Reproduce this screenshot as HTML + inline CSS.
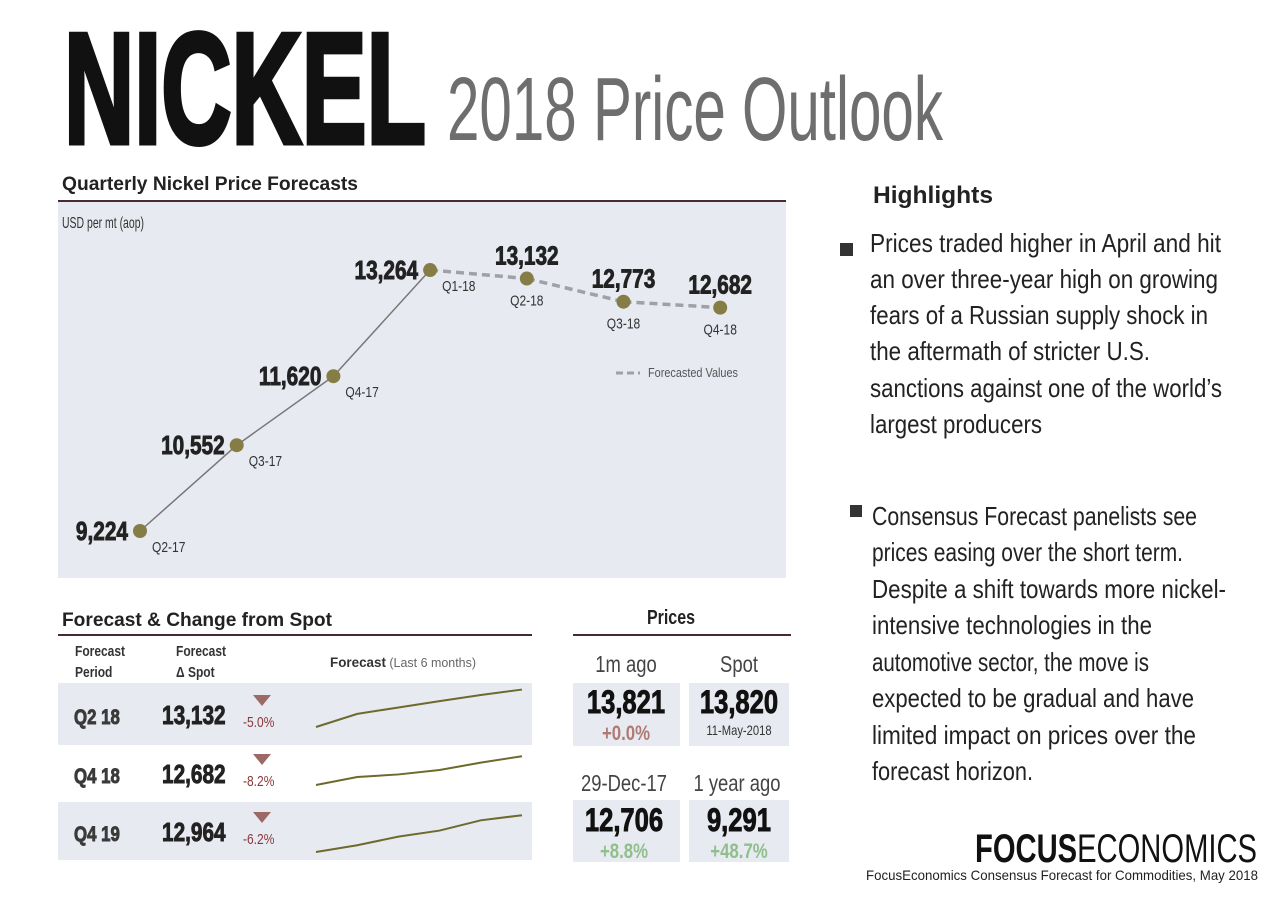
<!DOCTYPE html>
<html><head><meta charset="utf-8"><title>Nickel 2018 Price Outlook</title>
<style>
html,body{margin:0;padding:0;background:#fff;}
svg{display:block;font-family:"Liberation Sans Narrow","Liberation Sans",sans-serif;}
</style></head>
<body>
<svg id="page" width="1280" height="903" viewBox="0 0 1280 903" xmlns="http://www.w3.org/2000/svg">
<rect width="1280" height="903" fill="#fff"/>
<text x="64" y="143" font-size="158" font-weight="bold" fill="#111" stroke="#111" stroke-width="5" textLength="362" lengthAdjust="spacingAndGlyphs">NICKEL</text>
<text x="447" y="140" font-size="90" fill="#6e6e6e" textLength="496" lengthAdjust="spacingAndGlyphs">2018 Price Outlook</text>

<!-- Main chart -->
<text x="62" y="190" font-size="19" font-weight="bold" fill="#222" textLength="296" lengthAdjust="spacingAndGlyphs">Quarterly Nickel Price Forecasts</text>
<rect x="58" y="202" width="728" height="376" fill="#e8eaf1"/>
<line x1="58" y1="201" x2="786" y2="201" stroke="#4a2a32" stroke-width="2"/>
<text x="62" y="228" font-size="16" fill="#333" textLength="82" lengthAdjust="spacingAndGlyphs">USD per mt (aop)</text>
<g id="chart"></g>
<line x1="616" y1="373" x2="640" y2="373" stroke="#a0a0a8" stroke-width="3" stroke-dasharray="7,4"/>
<text x="648" y="377" font-size="13" fill="#555" textLength="90" lengthAdjust="spacingAndGlyphs">Forecasted Values</text>

<!-- Forecast table -->
<text x="62" y="626" font-size="19" font-weight="bold" fill="#222" textLength="270" lengthAdjust="spacingAndGlyphs">Forecast &amp; Change from Spot</text>
<line x1="58" y1="635" x2="532" y2="635" stroke="#4a2a32" stroke-width="2"/>
<text x="75" y="656" font-size="15" font-weight="bold" fill="#333">Forecast</text>
<text x="75" y="677" font-size="15" font-weight="bold" fill="#333">Period</text>
<text x="176" y="656" font-size="15" font-weight="bold" fill="#333">Forecast</text>
<text x="176" y="677" font-size="15" font-weight="bold" fill="#333">Δ  Spot</text>
<text x="330" y="667" font-size="14" fill="#333" textLength="146" lengthAdjust="spacingAndGlyphs"><tspan font-weight="bold">Forecast</tspan><tspan font-size="13" fill="#666"> (Last 6 months)</tspan></text>
<rect x="58" y="683" width="474" height="62" fill="#e8eaf1"/>
<rect x="58" y="802" width="474" height="58" fill="#e8eaf1"/>
<g id="table"></g>

<!-- Prices -->
<text x="671" y="624" font-size="20" font-weight="bold" fill="#222" text-anchor="middle">Prices</text>
<line x1="573" y1="635" x2="791" y2="635" stroke="#4a2a32" stroke-width="2"/>
<text x="626" y="672" font-size="23" fill="#444" text-anchor="middle">1m ago</text>
<text x="739" y="672" font-size="23" fill="#444" text-anchor="middle">Spot</text>
<rect x="573" y="683" width="107" height="63" fill="#e8eaf1"/>
<rect x="689" y="683" width="100" height="63" fill="#e8eaf1"/>
<text class="heavy" x="626" y="713" font-size="32" font-weight="bold" fill="#111" text-anchor="middle">13,821</text>
<text x="626" y="740" font-size="21" font-weight="bold" fill="#b07a74" text-anchor="middle">+0.0%</text>
<text class="heavy" x="739" y="713" font-size="32" font-weight="bold" fill="#111" text-anchor="middle">13,820</text>
<text x="739" y="735" font-size="14" fill="#333" text-anchor="middle">11-May-2018</text>
<text x="624" y="791" font-size="23" fill="#444" text-anchor="middle">29-Dec-17</text>
<text x="737" y="791" font-size="23" fill="#444" text-anchor="middle">1 year ago</text>
<rect x="573" y="800" width="107" height="62" fill="#e8eaf1"/>
<rect x="689" y="800" width="100" height="62" fill="#e8eaf1"/>
<text class="heavy" x="624" y="831" font-size="32" font-weight="bold" fill="#111" text-anchor="middle">12,706</text>
<text x="624" y="858" font-size="21" font-weight="bold" fill="#8fbf8a" text-anchor="middle">+8.8%</text>
<text class="heavy" x="739" y="831" font-size="32" font-weight="bold" fill="#111" text-anchor="middle">9,291</text>
<text x="739" y="858" font-size="21" font-weight="bold" fill="#8fbf8a" text-anchor="middle">+48.7%</text>

<!-- Highlights -->
<text x="873" y="203" font-size="24" font-weight="bold" fill="#222" textLength="120" lengthAdjust="spacingAndGlyphs">Highlights</text>
<rect x="840" y="243" width="13" height="13" fill="#333"/>
<g font-size="26" fill="#222">
<text x="870" y="252" textLength="351" lengthAdjust="spacingAndGlyphs">Prices traded higher in April and hit</text>
<text x="870" y="288" textLength="348" lengthAdjust="spacingAndGlyphs">an over three-year high on growing</text>
<text x="870" y="324" textLength="338" lengthAdjust="spacingAndGlyphs">fears of a Russian supply  shock in</text>
<text x="870" y="360" textLength="280" lengthAdjust="spacingAndGlyphs">the aftermath of stricter U.S.</text>
<text x="870" y="397" textLength="352" lengthAdjust="spacingAndGlyphs">sanctions against one of the world’s</text>
<text x="870" y="433" textLength="172" lengthAdjust="spacingAndGlyphs">largest producers</text>
</g>
<rect x="850" y="505" width="12" height="12" fill="#333"/>
<g font-size="26" fill="#222">
<text x="872" y="525" textLength="325" lengthAdjust="spacingAndGlyphs">Consensus Forecast panelists see</text>
<text x="872" y="561" textLength="311" lengthAdjust="spacingAndGlyphs">prices easing over the short term.</text>
<text x="872" y="598" textLength="354" lengthAdjust="spacingAndGlyphs">Despite a shift towards more nickel-</text>
<text x="872" y="634" textLength="280" lengthAdjust="spacingAndGlyphs">intensive technologies in the</text>
<text x="872" y="671" textLength="277" lengthAdjust="spacingAndGlyphs">automotive sector, the move is</text>
<text x="872" y="707" textLength="322" lengthAdjust="spacingAndGlyphs">expected to be gradual and have</text>
<text x="872" y="744" textLength="324" lengthAdjust="spacingAndGlyphs">limited impact on prices over the</text>
<text x="872" y="780" textLength="161" lengthAdjust="spacingAndGlyphs">forecast horizon.</text>
</g>

<text x="975" y="862" font-size="40" fill="#111" textLength="282" lengthAdjust="spacingAndGlyphs"><tspan font-weight="bold">FOCUS</tspan><tspan>ECONOMICS</tspan></text>
<text x="866" y="880" font-size="14" fill="#222" textLength="392" lengthAdjust="spacingAndGlyphs">FocusEconomics Consensus Forecast for Commodities,  May 2018</text>
</svg>
<script>
const categories = ["Q2-17","Q3-17","Q4-17","Q1-18","Q2-18","Q3-18","Q4-18"];
const prices = [9224,10552,11620,13264,13132,12773,12682];
const isForecast = [false,false,false,false,true,true,true];
const valueLabels = ["9,224","10,552","11,620","13,264","13,132","12,773","12,682"];

const periods = ["Q2 18","Q4 18","Q4 19"];
const forecasts = ["13,132","12,682","12,964"];
const changes = ["-5.0%","-8.2%","-6.2%"];
const spark1 = [12150,12560,12760,12960,13150,13320];
const spark2 = [12150,12400,12480,12620,12850,13050];
const spark3 = [11950,12160,12430,12620,12940,13100];

const NS = "http://www.w3.org/2000/svg";
function mk(tag, attrs, parent){const e=document.createElementNS(NS,tag);for(const k in attrs)e.setAttribute(k,attrs[k]);parent.appendChild(e);return e;}
const xS = i => 140 + i*96.7;
const yS = v => 531 - (v-9224)*0.0646;
const chart = document.getElementById('chart');
for(let i=0;i<prices.length-1;i++){
  const l = mk('line',{x1:xS(i),y1:yS(prices[i]),x2:xS(i+1),y2:yS(prices[i+1]),stroke:isForecast[i+1]?'#a0a0a8':'#777','stroke-width':isForecast[i+1]?3.5:1.5},chart);
  if(isForecast[i+1]) l.setAttribute('stroke-dasharray','8,5');
  
  
}
prices.forEach((v,i)=>{
  const x=xS(i), y=yS(v);
  const c=mk('circle',{cx:x,cy:y,r:7,fill:'#857c46'},chart);
  
  
  const above = isForecast[i];
  const t=mk('text',{class:'heavy',x:above?x:x-12,y:above?y-14:y+9,'font-size':26,'font-weight':'bold',fill:'#222','text-anchor':above?'middle':'end'},chart);
  t.textContent=valueLabels[i];
  
  
  const c2=mk('text',{x:above?x:x+12,y:above?y+27:y+21,'font-size':15,fill:'#333','text-anchor':above?'middle':'start'},chart);
  c2.textContent=categories[i];
  
  
});
const table=document.getElementById('table');
const rowY=[714,773,831];
const sparks=[spark1,spark2,spark3];
periods.forEach((p,i)=>{
  const y=rowY[i];
  const a=mk('text',{class:'heavy',x:74,y:y+10,'font-size':21,'font-weight':'bold',fill:'#3a3a3a'},table); a.textContent=p;
  
  
  const b=mk('text',{class:'heavy',x:162,y:y+10,'font-size':26,'font-weight':'bold',fill:'#222'},table); b.textContent=forecasts[i];
  
  
  const tri=mk('polygon',{points:`${253},${y-19} ${271},${y-19} ${262},${y-8}`,fill:'#9c6a66'},table);
  
  
  const d=mk('text',{x:243,y:y+13,'font-size':15,fill:'#8a3a3a'},table); d.textContent=changes[i];
  
  
  const s=sparks[i];
  const base=[727,785,852][i];
  const pts=s.map((v,j)=>`${316+j*41.2},${base-(v-s[0])*0.032}`).join(' ');
  const pl=mk('polyline',{points:pts,fill:'none',stroke:'#6d6a2e','stroke-width':2},table);
  
  
});
// condense texts that lack explicit lengths (narrow font fallback)
document.querySelectorAll('svg text').forEach(t=>{
  if(t.hasAttribute('textLength')) return;
  const len=t.getComputedTextLength();
  if(len>0){t.setAttribute('textLength',(len*0.8).toFixed(1));t.setAttribute('lengthAdjust','spacingAndGlyphs');}
  if(t.getAttribute('class')==='heavy'){t.setAttribute('stroke',t.getAttribute('fill'));t.setAttribute('stroke-width','0.9');}
});
</script>
</body></html>
